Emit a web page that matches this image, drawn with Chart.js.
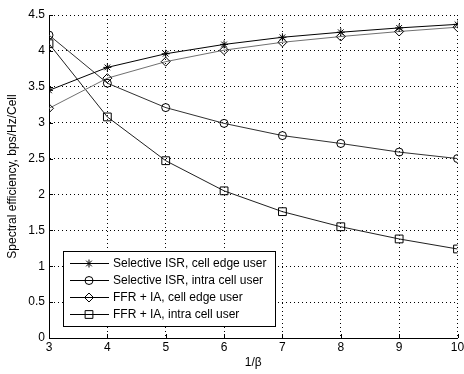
<!DOCTYPE html>
<html>
<head>
<meta charset="utf-8">
<script src="https://cdn.jsdelivr.net/npm/chart.js@4/dist/chart.umd.min.js"></script>
<style>
  html, body { margin: 0; padding: 0; background: #fff; }
  #wrap { width: 464px; height: 374px; }
</style>
</head>
<body>
<div id="wrap"><canvas id="chart-main" width="464" height="374"></canvas></div>
<script>
// 1/beta values on the x axis
const xVals = [3, 4, 5, 6, 7, 8, 9, 10];
const isrEdge = [3.45, 3.77, 3.96, 4.09, 4.19, 4.26, 4.32, 4.37];
const isrIntra = [4.22, 3.55, 3.21, 2.99, 2.82, 2.71, 2.59, 2.50];
const ffrEdge = [3.20, 3.62, 3.85, 4.01, 4.12, 4.20, 4.27, 4.33];
const ffrIntra = [4.10, 3.08, 2.47, 2.05, 1.76, 1.55, 1.38, 1.24];
const seriesNames = [
  'Selective ISR, cell edge user',
  'Selective ISR, intra cell user',
  'FFR + IA, cell edge user',
  'FFR + IA, intra cell user'
];
const yTicks = [0, 0.5, 1, 1.5, 2, 2.5, 3, 3.5, 4, 4.5];

const FONT = 'Liberation Sans, Arial, sans-serif';
const pts = arr => arr.map((v, i) => ({ x: xVals[i], y: v }));

const mk = (label, data, color, style, radius) => ({
  label, data: pts(data),
  borderColor: color, borderWidth: 1,
  pointStyle: style, pointRadius: radius, pointHoverRadius: radius,
  pointBorderColor: '#000', pointBackgroundColor: 'rgba(0,0,0,0)', pointBorderWidth: 1,
  tension: 0, fill: false
});

// legend box drawn inside the plot, bottom-left, MATLAB style
const boxLegend = {
  id: 'boxLegend',
  afterDatasetsDraw(chart) {
    const { ctx, chartArea } = chart;
    const x0 = chartArea.left + 14, y1 = chartArea.bottom - 12;
    const w = 212, h = 75, y0 = y1 - h;
    ctx.save();
    ctx.fillStyle = '#fff';
    ctx.fillRect(x0, y0, w, h);
    ctx.strokeStyle = '#000';
    ctx.lineWidth = 1;
    ctx.strokeRect(x0 + 0.5, y0 + 0.5, w, h);
    ctx.font = '12px ' + FONT;
    ctx.textBaseline = 'middle';
    chart.data.datasets.forEach((ds, i) => {
      const y = Math.round(y0 + 12 + i * 17) + 0.5;
      ctx.strokeStyle = '#000';
      ctx.beginPath();
      ctx.moveTo(x0 + 7, y);
      ctx.lineTo(x0 + 46, y);
      ctx.stroke();
      ctx.fillStyle = 'rgba(0,0,0,0)';
      Chart.helpers.drawPoint(ctx, {
        pointStyle: ds.pointStyle, radius: ds.pointRadius, borderWidth: 1, rotation: 0
      }, x0 + 26, y);
      ctx.fillStyle = '#000';
      ctx.fillText(ds.label, x0 + 50, y);
    });
    ctx.restore();
  }
};

// small inward tick marks like MATLAB
const innerTicks = {
  id: 'innerTicks',
  afterDatasetsDraw(chart) {
    const { ctx, chartArea, scales } = chart;
    ctx.save();
    ctx.strokeStyle = '#000';
    ctx.lineWidth = 1;
    ctx.beginPath();
    scales.x.ticks.forEach(t => {
      const px = Math.round(scales.x.getPixelForValue(t.value)) + 0.5;
      ctx.moveTo(px, chartArea.bottom); ctx.lineTo(px, chartArea.bottom - 4);
    });
    scales.y.ticks.forEach(t => {
      const py = Math.round(scales.y.getPixelForValue(t.value)) + 0.5;
      ctx.moveTo(chartArea.left, py); ctx.lineTo(chartArea.left + 4, py);
    });
    ctx.stroke();
    ctx.restore();
  }
};

new Chart(document.getElementById('chart-main'), {
  type: 'line',
  data: {
    datasets: [
      mk(seriesNames[0], isrEdge, '#000', 'star', 4),
      mk(seriesNames[1], isrIntra, '#303030', 'circle', 4),
      mk(seriesNames[2], ffrEdge, '#707070', 'rectRot', 4.5),
      mk(seriesNames[3], ffrIntra, '#202020', 'rect', 5.5)
    ]
  },
  options: {
    responsive: false, animation: false, devicePixelRatio: 1,
    layout: { padding: { top: 15, right: 5, left: 0, bottom: 0 } },
    plugins: { legend: { display: false }, tooltip: { enabled: false } },
    scales: {
      x: {
        type: 'linear', min: 3, max: 10,
        afterBuildTicks: s => { s.ticks = xVals.map(v => ({ value: v })); },
        afterFit: s => { s.height = 36; s.paddingLeft = 0; s.paddingRight = 0; },
        ticks: { color: '#000', font: { family: FONT, size: 12 }, padding: 2, maxRotation: 0, callback: v => String(v) },
        grid: { color: '#000', lineWidth: 1, tickLength: 0 },
        border: { color: '#000', width: 1, dash: [1, 3] },
        title: { display: true, text: '1/β', color: '#000', font: { family: FONT, size: 12 }, padding: { top: 2 } }
      },
      y: {
        min: 0, max: 4.5,
        afterBuildTicks: s => { s.ticks = yTicks.map(v => ({ value: v })); },
        afterFit: s => { s.width = 49; s.paddingTop = 0; s.paddingBottom = 0; },
        ticks: { color: '#000', font: { family: FONT, size: 12 }, padding: 4, callback: v => String(v) },
        grid: { color: '#000', lineWidth: 1, tickLength: 0 },
        border: { color: '#000', width: 1, dash: [1, 3] },
        title: { display: true, text: 'Spectral efficiency, bps/Hz/Cell', color: '#000', font: { family: FONT, size: 12 }, padding: { top: 5, bottom: 0 } }
      }
    }
  },
  plugins: [innerTicks, boxLegend]
});
</script>
</body>
</html>
